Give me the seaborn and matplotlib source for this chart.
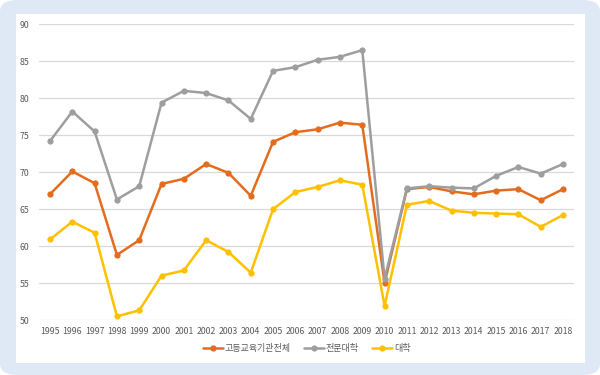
import pandas as pd
import seaborn as sns
import matplotlib.pyplot as plt
from matplotlib.patches import FancyBboxPatch, Rectangle

years = list(range(1995, 2019))
total = [67.0, 70.1, 68.5, 58.8, 60.8, 68.4, 69.1, 71.1, 69.9, 66.8, 74.1, 75.4,
         75.8, 76.7, 76.4, 55.0, 67.7, 68.0, 67.4, 67.0, 67.5, 67.7, 66.2, 67.7]
college = [74.2, 78.2, 75.5, 66.3, 68.1, 79.4, 81.0, 80.7, 79.7, 77.2, 83.7, 84.2,
           85.2, 85.6, 86.5, 55.6, 67.8, 68.1, 67.9, 67.8, 69.5, 70.7, 69.8, 71.1]
univ = [60.9, 63.3, 61.8, 50.5, 51.3, 56.0, 56.7, 60.8, 59.2, 56.4, 65.0, 67.3,
        68.0, 68.9, 68.3, 51.9, 65.6, 66.1, 64.8, 64.5, 64.4, 64.3, 62.6, 64.2]
series_names = ['고등교육기관전체', '전문대학', '대학']
colors = ['#E36C1E', '#9E9E9E', '#FFC000']

df = pd.DataFrame({'year': years * 3,
                   'value': total + college + univ,
                   'series': [s for s in series_names for _ in years]})

sns.set_theme(style='white')
plt.rcParams['font.family'] = ['Noto Sans CJK KR', 'DejaVu Sans']

fig = plt.figure(figsize=(6, 3.75), dpi=100)
fig.patch.set_facecolor('white')
# light blue frame with rounded corners, white panel inside
fig.patches.append(FancyBboxPatch((0.0, 0.0), 1.0, 1.0, boxstyle='round,pad=0,rounding_size=0.03',
                                  transform=fig.transFigure, facecolor='#DEE9F5',
                                  edgecolor='none', zorder=-3))
fig.patches.append(Rectangle((16 / 600, 1 - 363 / 375), (585 - 16) / 600, (363 - 14) / 375,
                             transform=fig.transFigure, facecolor='white',
                             edgecolor='none', zorder=-2))

ax = fig.add_axes([38.85 / 600, 1 - 320 / 375, (574.2 - 38.85) / 600, (320 - 24.3) / 375])
ax.set_facecolor('none')

sns.lineplot(data=df, x='year', y='value', hue='series', palette=colors,
             hue_order=series_names, marker='o', markersize=4.5, markeredgewidth=0,
             linewidth=1.8, ax=ax)

ax.set_xlim(1994.5, 2018.5)
ax.set_ylim(50, 90)
ax.set_xticks(years)
ax.set_xticklabels([str(y) for y in years])
ax.set_yticks(range(50, 91, 5))
ax.yaxis.grid(True, color='#D9D9D9', linewidth=0.9)
ax.set_axisbelow(True)
for s in ax.spines.values():
    s.set_visible(False)
ax.tick_params(axis='both', length=0, labelsize=6.3, labelcolor='#595959')
ax.tick_params(axis='y', pad=14)
ax.tick_params(axis='x', pad=5)
for lbl in ax.get_yticklabels():
    lbl.set_horizontalalignment('left')
ax.set_xlabel('')
ax.set_ylabel('')

ax.legend(loc='center', bbox_to_anchor=(0.5, (1 - 349 / 375 - (1 - 320 / 375)) / ((320 - 24.3) / 375)),
          ncol=3, frameon=False, fontsize=6.5, handlelength=2.2, handletextpad=0.2,
          columnspacing=1.5, labelcolor='#595959')

fig.savefig('out.png', dpi=100)
